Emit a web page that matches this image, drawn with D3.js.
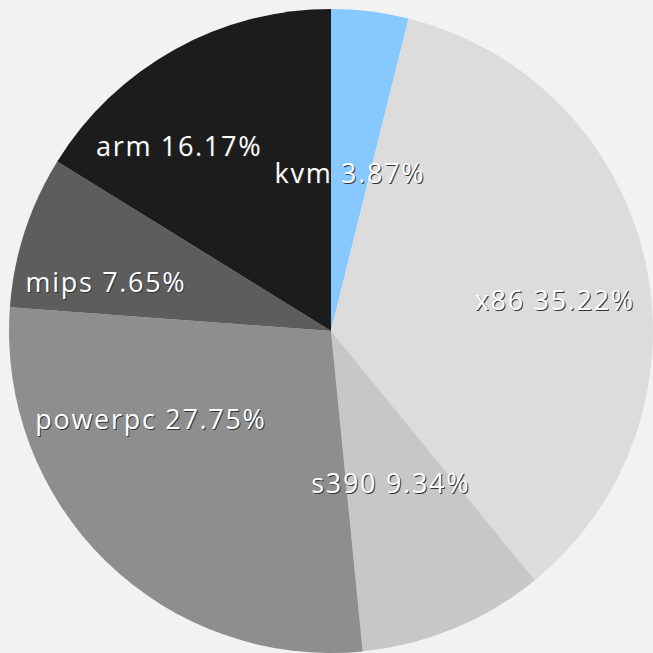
<!DOCTYPE html>
<html>
<head>
<meta charset="utf-8">
<script src="https://cdn.jsdelivr.net/npm/d3@7"></script>
<style>
  html, body { margin: 0; padding: 0; background: #f2f2f2; }
  svg { display: block; }
</style>
</head>
<body>
<div id="chart"></div>
<script>
const width = 653;
const height = 653;

const categories = ['kvm', 'x86', 's390', 'powerpc', 'mips', 'arm'];
const shares = [3.87, 35.22, 9.34, 27.75, 7.65, 16.17];
const colors = ['#87c8ff', '#dcdcdc', '#c7c7c7', '#8e8e8e', '#5d5d5d', '#1c1c1c'];

// label placement: angle (deg, clockwise from top) and radius as fraction of pie radius
const labelAngle = [6.8, 81.9, 158.5, 244.2, 282.5, 320.7];
const labelRadius = [0.497, 0.702, 0.506, 0.621, 0.716, 0.745];

const cx = 331;
const cy = 331;
const radius = 322;

const data = categories.map((c, i) => ({ name: c, value: shares[i], i }));

const svg = d3.select('#chart')
  .append('svg')
  .attr('width', width)
  .attr('height', height);

svg.append('rect')
  .attr('width', width)
  .attr('height', height)
  .attr('fill', '#f2f2f2');

const pie = d3.pie()
  .sort(null)
  .value(d => d.value);

const arc = d3.arc()
  .innerRadius(0)
  .outerRadius(radius);

const g = svg.append('g')
  .attr('transform', `translate(${cx},${cy})`);

g.selectAll('path')
  .data(pie(data))
  .enter()
  .append('path')
  .attr('d', arc)
  .attr('fill', d => colors[d.data.i]);

function labelPos(i) {
  const a = labelAngle[i] * Math.PI / 180;
  const r = labelRadius[i] * radius;
  return [r * Math.sin(a), -r * Math.cos(a)];
}

const labels = g.selectAll('g.label')
  .data(data)
  .enter()
  .append('g')
  .attr('class', 'label')
  .attr('transform', d => `translate(${labelPos(d.i)})`);

const font = "'Open Sans', sans-serif";

labels.append('text')
  .text(d => `${d.name} ${d.value.toFixed(2)}%`)
  .attr('x', 1)
  .attr('y', 1.2)
  .attr('text-anchor', 'middle')
  .attr('dominant-baseline', 'central')
  .attr('fill', '#333')
  .style('font-size', '27px')
  .style('letter-spacing', '1.7px')
  .style('font-family', font);

labels.append('text')
  .text(d => `${d.name} ${d.value.toFixed(2)}%`)
  .attr('text-anchor', 'middle')
  .attr('dominant-baseline', 'central')
  .attr('fill', '#fff')
  .style('font-size', '27px')
  .style('letter-spacing', '1.7px')
  .style('font-family', font);
</script>
</body>
</html>
